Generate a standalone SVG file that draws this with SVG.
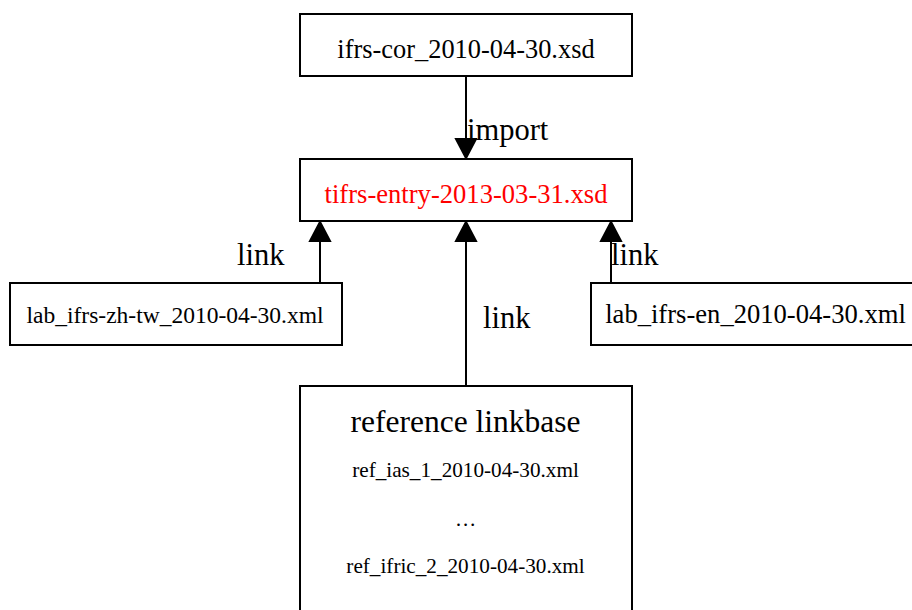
<svg xmlns="http://www.w3.org/2000/svg" width="912" height="610" viewBox="0 0 912 610">
  <defs>
    <style>
      .box { fill: #ffffff; stroke: #000000; stroke-width: 2; }
      .edge { fill: none; stroke: #000000; stroke-width: 2; }
      .head { fill: #000000; stroke: #000000; stroke-width: 2; stroke-linejoin: miter; }
      text { font-family: "Liberation Serif", "Times New Roman", serif; fill: #000000; }
      .lbl { font-size: 30.5px; }
      .name { text-anchor: middle; }
    </style>
  </defs>
  <rect x="0" y="0" width="912" height="610" fill="#ffffff"/>

  <!-- connectors -->
  <g id="edges">
    <g id="e-import">
      <path class="edge" d="M466,76 V139"/>
      <polygon class="head" points="456,139 476,139 466,158"/>
      <text class="lbl" x="467" y="140">import</text>
    </g>
    <g id="e-link-zh">
      <path class="edge" d="M320,283 V241"/>
      <polygon class="head" points="310,241 330,241 320,222"/>
      <text class="lbl" x="237" y="265">link</text>
    </g>
    <g id="e-link-ref">
      <path class="edge" d="M466,386 V241"/>
      <polygon class="head" points="456,241 476,241 466,222"/>
      <text class="lbl" x="483" y="328">link</text>
    </g>
    <g id="e-link-en">
      <path class="edge" d="M611,283 V241"/>
      <polygon class="head" points="601,241 621,241 611,222"/>
      <text class="lbl" x="611" y="265">link</text>
    </g>
  </g>

  <!-- nodes -->
  <g id="n-ifrs-cor">
    <rect class="box" x="300" y="14" width="332" height="62"/>
    <text class="name" x="466" y="58" font-size="26.4">ifrs-cor_2010-04-30.xsd</text>
  </g>
  <g id="n-tifrs-entry">
    <rect class="box" x="300" y="159" width="332" height="62"/>
    <text class="name" x="466" y="202.5" font-size="26.6" fill="#ff0000" style="fill:#ff0000">tifrs-entry-2013-03-31.xsd</text>
  </g>
  <g id="n-lab-zh-tw">
    <rect class="box" x="10" y="283" width="332" height="62"/>
    <text class="name" x="175" y="323" font-size="23.5">lab_ifrs-zh-tw_2010-04-30.xml</text>
  </g>
  <g id="n-lab-en">
    <rect class="box" x="591" y="283" width="332" height="62"/>
    <text class="name" x="755.5" y="323" font-size="26.6">lab_ifrs-en_2010-04-30.xml</text>
  </g>
  <g id="n-ref-linkbase">
    <rect class="box" x="300" y="386" width="332" height="240"/>
    <text class="name" x="465.5" y="432" font-size="31.5">reference linkbase</text>
    <text class="name" x="465.5" y="477" font-size="21.2">ref_ias_1_2010-04-30.xml</text>
    <text class="name" x="465.5" y="526" font-size="21.2">…</text>
    <text class="name" x="465.5" y="573" font-size="21.2">ref_ifric_2_2010-04-30.xml</text>
  </g>
</svg>
